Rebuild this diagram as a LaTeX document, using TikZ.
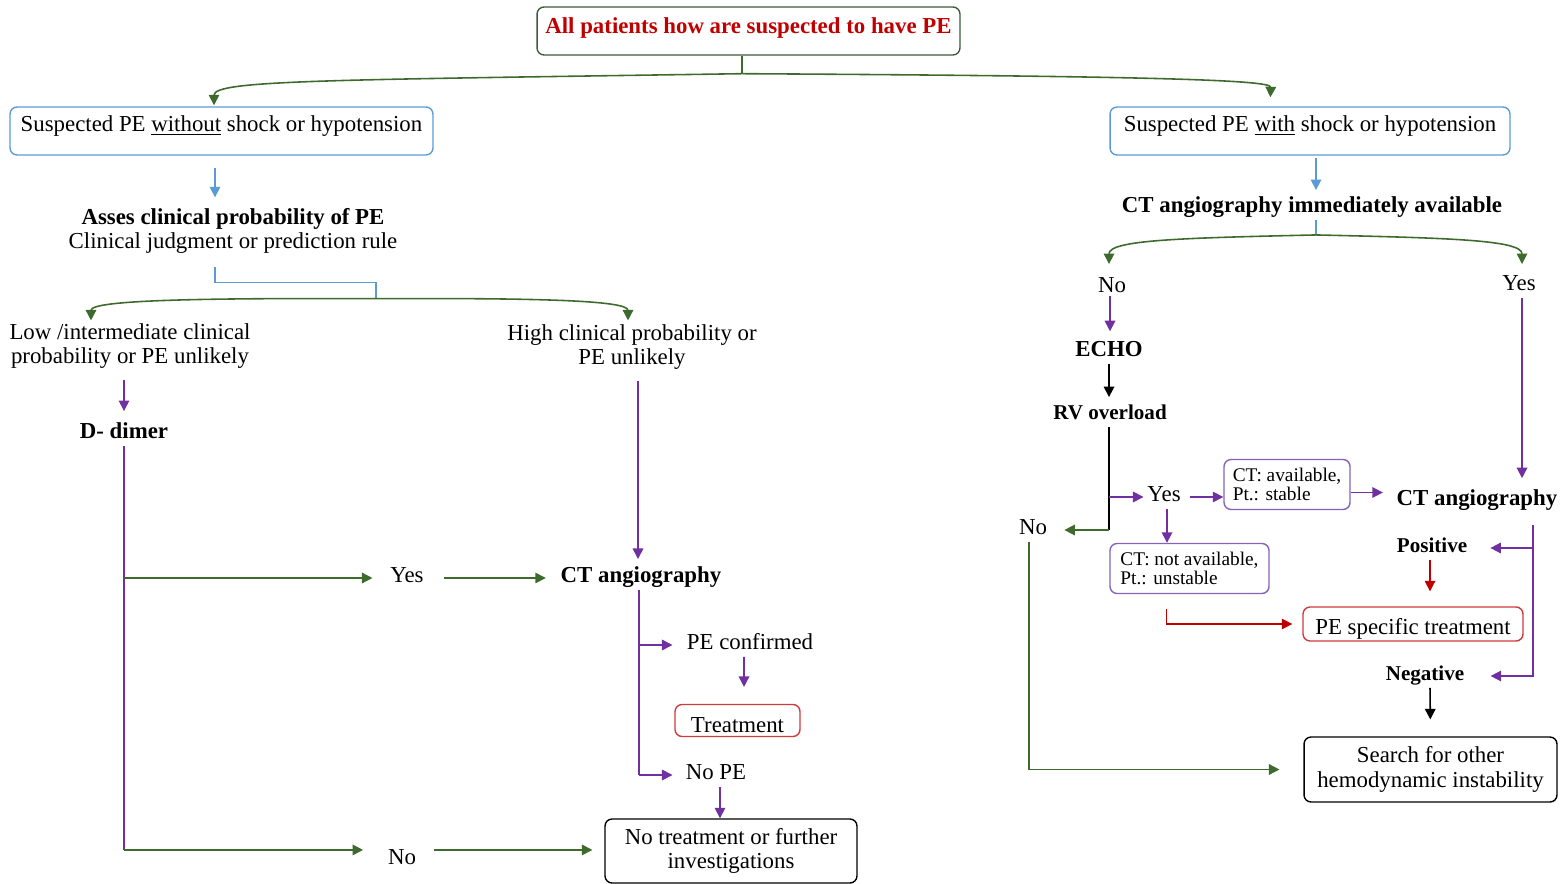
\documentclass[tikz,border=0pt]{standalone}
\usepackage{fontspec}
\setmainfont{Liberation Serif}
\usepackage{tikz}
\usetikzlibrary{arrows.meta,calc}
\definecolor{linegreen}{HTML}{3F6A2E}
\definecolor{linepurple}{HTML}{7030A0}
\definecolor{lineblue}{HTML}{5B9BD5}
\definecolor{linered}{HTML}{C00000}
\definecolor{edgepurple}{HTML}{8563BD}
\definecolor{edgegreen}{HTML}{3E5B3C}
\definecolor{edgered}{HTML}{D13B3B}

\begin{document}
\begin{tikzpicture}[x=0.02cm,y=-0.02cm,
  every node/.style={font=\fontsize{13}{14}\selectfont},
  txt/.style={inner sep=2pt,text height=0.7em,text depth=0.22em},
  txtb/.style={txt,font=\fontsize{13}{14}\selectfont\bfseries},
  txts/.style={txt,font=\fontsize{12}{14}\selectfont\bfseries},
  twoline/.style={inner sep=2pt,align=center},
  rbox/.style={draw,rounded corners=4pt,line width=0.8pt,inner sep=0pt},
  ctbox/.style={rbox,draw=edgepurple,align=left,font=\fontsize{11}{11.3}\selectfont,minimum height=1cm},
  wire/.style={line width=0.9pt},
  arr/.style={wire,-{Triangle[length=6pt,width=6pt]}}]
\useasboundingbox (0,0) rectangle (1567,884);
% boxes
\node[rbox,draw=edgegreen,text=linered,font=\fontsize{13}{14}\selectfont\bfseries,
  minimum width=8.46cm,text height=0.54cm,text depth=0.42cm] (all) at (748.5,31) {All patients how are suspected to have PE};
\node[rbox,draw=lineblue,minimum width=8.46cm,text height=0.5cm,text depth=0.46cm] (nos) at (221.5,131) {Suspected PE \underline{without} shock or hypotension};
\node[rbox,draw=lineblue,minimum width=8cm,text height=0.5cm,text depth=0.46cm] (wis) at (1310,131) {Suspected PE \underline{with} shock or hypotension};
\node[rbox,draw=edgered,minimum width=2.5cm,text height=0.56cm,text depth=0.08cm] (treat) at (737.5,720.5) {Treatment};
\node[rbox,draw=black,align=center,minimum width=5.04cm,minimum height=1.28cm] (none) at (731,851) {No treatment or further\\investigations};
\node[rbox,draw=edgered,minimum width=4.4cm,text height=0.54cm,text depth=0.14cm] (pest) at (1413,624) {PE specific treatment};
\node[rbox,draw=black,align=center,minimum width=5.06cm,minimum height=1.3cm] (search) at (1430.5,769.5) {Search for other\\hemodynamic instability};
\node[ctbox,minimum width=2.52cm] (ctav) at (1287,484.5) {CT: available,\\Pt.: stable};
\node[ctbox,minimum width=3.18cm] (ctna) at (1189.5,568.5) {CT: not available,\\Pt.: unstable};
% left column
\node[twoline] (assess) at (233,231) {\textbf{Asses clinical probability of PE}\\Clinical judgment or prediction rule};
\node[twoline] (lowp) at (130,346) {Low /intermediate clinical\\probability or PE unlikely};
\node[twoline] (highp) at (632,347) {High clinical probability or\\PE unlikely};
\node[txtb] (ddim) at (124,434) {D- dimer};
\node[txt] (yes1) at (407,578) {Yes};
\node[txtb] (ctl) at (641,578) {CT angiography};
\node[txt] (no1) at (402,860) {No};
\node[txt] (pec) at (750,645) {PE confirmed};
\node[txt] (nope) at (716,775) {No PE};
% right column
\node[txtb] (ctia) at (1312,208) {CT angiography immediately available};
\node[txt] (no2) at (1112,288) {No};
\node[txt] (yes2) at (1519,286) {Yes};
\node[txtb] (echo) at (1109,352) {ECHO};
\node[txts] (rvo) at (1110,415) {RV overload};
\node[txt] (yes3) at (1164,497) {Yes};
\node[txt] (no3) at (1033,530) {No};
\node[txtb] (ctr) at (1477,501) {CT angiography};
\node[txts] (pos) at (1432,548) {Positive};
\node[txts] (neg) at (1425,676) {Negative};
% top split
\draw[wire,linegreen] ($(all.south)+(-6.5,0)$) -- ++(0,18) coordinate (tj);
\draw[arr,linegreen] (tj) .. controls (330,80) and (214,80) .. ($(nos.north)+(-7.5,-1)$);
\draw[arr,linegreen] (tj) .. controls (1150,76) and (1271,80) .. ($(wis.north west)+(161,-9)$);
% without shock
\draw[arr,lineblue] ($(nos.south)+(-6.5,12)$) -- ($(assess.north)+(-18,-7)$);
\draw[wire,lineblue] ($(assess.south)+(-18,9)$) |- ++(161,16) -- ++(0,16) coordinate (bj);
\draw[arr,linegreen] (bj) .. controls (200,298) and (91,300) .. ($(lowp.north)+(-39,1)$);
\draw[arr,linegreen] (bj) .. controls (530,298) and (628,300) .. ($(highp.north)+(-4,0)$);
\draw[arr,linepurple] ($(lowp.south)+(-6,7)$) -- ($(ddim.north)+(0,-11)$);
\coordinate (dn) at ($(ddim.south)+(0,404)$);
\draw[wire,linepurple] (ddim.south) -- (dn);
\draw[arr,linegreen,shorten >=8pt] (ddim.south |- yes1.west) -- (yes1.west);
\draw[arr,linegreen,shorten >=12pt] (dn) -- (dn -| no1.west);
\draw[arr,linegreen,shorten <=9.6pt,shorten >=6.3pt] (yes1.east) -- (yes1.east -| ctl.west);
\draw[arr,linegreen,shorten <=8pt,shorten >=6.8pt] (dn -| no1.east) -- (dn -| none.west);
\draw[arr,linepurple,shorten <=4pt,shorten >=4pt] ($(highp.south)+(6,0)$) -- ($(ctl.north)+(-3,0)$);
\coordinate (cl) at ($(ctl.south)+(-2,0)$);
\draw[wire,linepurple] (cl) -- (cl |- nope.west);
\draw[arr,linepurple,shorten >=6pt] (cl |- pec.west) -- (pec.west);
\draw[arr,linepurple,shorten >=5.4pt] (cl |- nope.west) -- (nope.west);
\draw[arr,linepurple,shorten >=9.6pt] ($(pec.south)+(-6,0)$) -- ($(treat.north)+(6.5,0)$);
\draw[arr,linepurple] ($(nope.south)+(4,0)$) -- ($(none.north)+(-11,0)$);
% with shock
\draw[arr,lineblue,shorten >=3.4pt] ($(wis.south)+(6,2)$) -- ($(ctia.north)+(4,0)$);
\draw[wire,lineblue] ($(ctia.south)+(4,0)$) -- ++(0,15) coordinate (rj);
\draw[arr,linegreen] (rj) .. controls (1180,238) and (1109,240) .. ($(no2.north)+(-3,-12)$);
\draw[arr,linegreen] (rj) .. controls (1450,238) and (1522,240) .. ($(yes2.north)+(3,-10)$);
\draw[arr,linepurple,shorten >=5pt] ($(no2.south)+(-2,-4)$) -- ($(echo.north)+(1,0)$);
\draw[arr,black,shorten >=3.4pt] (echo.south) -- ($(rvo.north)+(-1,0)$);
\coordinate (rv) at ($(rvo.south)+(-1,0)$);
\draw[wire,black] (rv) -- (rv |- no3.east);
\draw[arr,linegreen,shorten >=7.7pt] (rv |- no3.east) -- (no3.east);
\draw[arr,linepurple] (rv |- yes3.west) -- (yes3.west);
\draw[arr,linepurple,shorten <=3pt] (yes3.east) -- (yes3.east -| ctav.west);
\coordinate (cv) at ($(ctav.east)+(0,8)$);
\draw[arr,linepurple,shorten >=5.7pt] (cv) -- (cv -| ctr.west);
\draw[arr,linepurple,shorten >=6.2pt] ($(yes2.south)+(3,0)$) -- ($(ctr.north)+(45,0)$);
\draw[arr,linepurple] ($(yes3.south)+(3,0)$) -- ($(ctna.north)+(-22.5,0)$);
\draw[arr,linered,shorten >=5.7pt] ($(ctna.south)+(-23,15)$) |- (pest.west);
\coordinate (cr) at ($(ctr.south)+(56,12)$);
\draw[arr,linepurple,shorten >=12.8pt] (cr) |- (neg.east);
\draw[arr,linepurple,shorten >=11pt] (cr |- pos.east) -- (pos.east);
\draw[arr,linered,shorten >=8.5pt] ($(pos.south)+(-2,0)$) -- ($(pest.north)+(17,0)$);
\draw[arr,black,shorten >=9.6pt] ($(neg.south)+(5,0)$) -- (search.north);
\draw[arr,linegreen,shorten >=13.6pt] ($(no3.south)+(-4,0)$) |- (search.west);
\end{tikzpicture}
\end{document}
